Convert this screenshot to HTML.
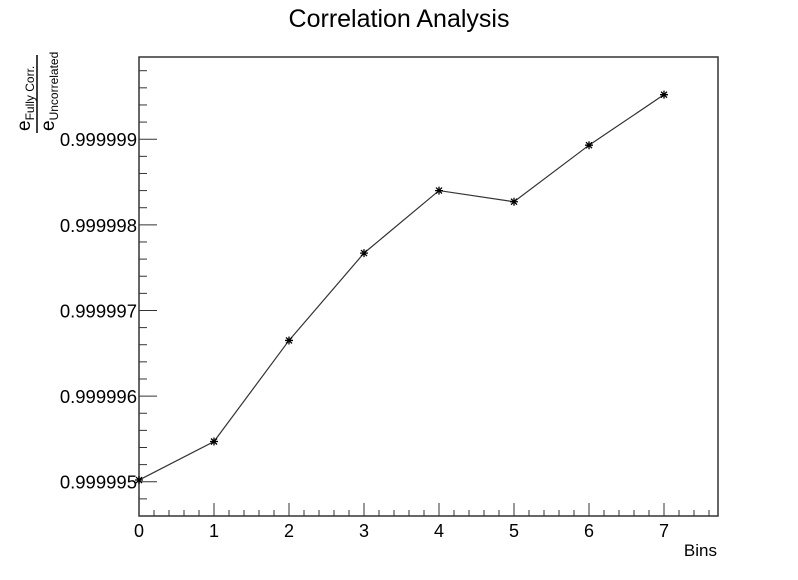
<!DOCTYPE html>
<html><head><meta charset="utf-8"><style>
html,body{margin:0;padding:0;background:#fff;}
svg text{font-family:"Liberation Sans",Arial,sans-serif;fill:#000;}
</style></head><body>
<svg id="chart" width="798" height="575" viewBox="0 0 798 575" xmlns="http://www.w3.org/2000/svg">
<rect x="0" y="0" width="798" height="575" fill="#fff"/>
<text x="399" y="27" font-size="25" text-anchor="middle">Correlation Analysis</text>
<g id="axes"></g>
<g id="series"></g>
<text x="717" y="556" font-size="17" text-anchor="end">Bins</text>
<g transform="translate(0,131) rotate(-90)">
  <text x="0" y="30" font-size="19">e<tspan font-size="12" dy="4">Fully Corr.</tspan></text>
  <line x1="-2" y1="37" x2="76" y2="37" stroke="#000" stroke-width="1.5"/>
  <text x="0" y="54" font-size="19">e<tspan font-size="12" dy="4">Uncorrelated</tspan></text>
</g>
</svg>
<script>
const bins = [0,1,2,3,4,5,6,7];
const ratios = [0.99999502,0.99999547,0.99999665,0.99999767,0.9999984,0.99999827,0.99999893,0.99999952];
const xTicks = [0,1,2,3,4,5,6,7];
const yTicks = [0.999995,0.999996,0.999997,0.999998,0.999999];
const yTickLabels = ["0.999995","0.999996","0.999997","0.999998","0.999999"];

const L=139,R=718,T=57,B=516;
const xMin=0,xMax=7.72,yMin=0.9999946,yMax=0.99999996;
const sx=v=>L+(v-xMin)/(xMax-xMin)*(R-L);
const sy=v=>B-(v-yMin)/(yMax-yMin)*(B-T);
const NS="http://www.w3.org/2000/svg";
function mk(tag,attrs,parent){const e=document.createElementNS(NS,tag);for(const k in attrs)e.setAttribute(k,attrs[k]);parent.appendChild(e);return e;}
const axes=document.getElementById('axes'),series=document.getElementById('series');
const frame=mk('rect',{x:L,y:T,width:R-L,height:B-T,fill:'none',stroke:'#333','stroke-width':1.5},axes);


for(let v=0;v<=xMax+1e-9;v=Math.round((v+0.2)*10)/10){
  const major=Math.abs(v-Math.round(v))<1e-6;
  const t=mk('line',{x1:sx(v),x2:sx(v),y1:B,y2:B-(major?13:6),stroke:'#333','stroke-width':1},axes);
  
  
}
xTicks.forEach(v=>{
  const t=mk('text',{x:sx(v),y:B+21,'font-size':18,'text-anchor':'middle'},axes);t.textContent=String(v);
  
  
});
const step=(yTicks[1]-yTicks[0])/5;
for(let k=-10;k<=40;k++){
  const v=yTicks[0]+k*step;
  if(v<yMin||v>yMax)continue;
  const major=((k%5)+5)%5===0;
  const t=mk('line',{x1:L,x2:L+(major?18:8),y1:sy(v),y2:sy(v),stroke:'#333','stroke-width':1},axes);
  
  
}
yTicks.forEach((v,i)=>{
  const t=mk('text',{x:L-2,y:sy(v)+7,'font-size':18.5,'text-anchor':'end'},axes);t.textContent=yTickLabels[i];
  
  
});
const pts=bins.map((b,i)=>sx(b)+','+sy(ratios[i])).join(' ');
const pl=mk('polyline',{points:pts,fill:'none',stroke:'#333','stroke-width':1.2},series);


bins.forEach((b,i)=>{
  const x=sx(b),y=sy(ratios[i]),s=4;
  const g=mk('path',{d:`M${x-s},${y}H${x+s}M${x},${y-s}V${y+s}M${x-3},${y-3}L${x+3},${y+3}M${x-3},${y+3}L${x+3},${y-3}`,stroke:'#000','stroke-width':1.3},series);
  
  
});
</script>
</body></html>
